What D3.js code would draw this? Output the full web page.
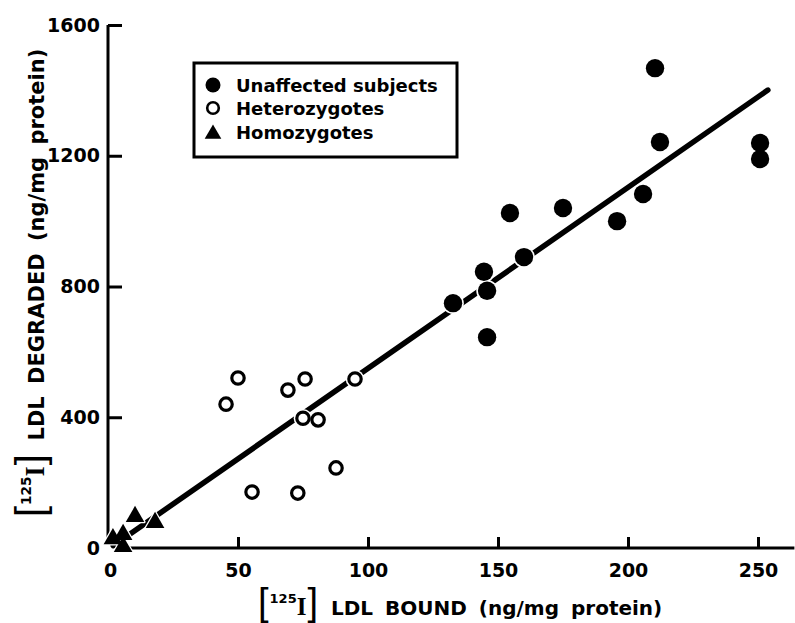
<!DOCTYPE html>
<html>
<head>
<meta charset="utf-8">
<script src="https://cdn.jsdelivr.net/npm/d3@7"></script>
<style>
  html, body { margin: 0; padding: 0; background: #fff; }
  svg { display: block; }
  text { fill: #000; }
</style>
</head>
<body>
<svg id="chart" width="795" height="623"></svg>
<script>
// ---- data ----
const unaffectedX = [210.4, 212.3, 250.8, 250.8, 205.8, 175.0, 154.6, 195.8, 160.0, 144.6, 145.8, 132.7, 145.8];
const unaffectedY = [1468, 1242, 1239, 1190, 1083, 1040, 1025, 1000, 890, 845, 787, 749, 645];

const heteroX = [50.0, 45.4, 69.2, 75.8, 95.0, 75.0, 80.8, 87.7, 55.4, 73.0];
const heteroY = [520, 440, 483, 517, 517, 397, 392, 245, 171, 168];

const homoX = [10.4, 18.1, 1.9, 5.8, 5.8];
const homoY = [96, 78, 28, 41, 4];

const fitX = [2, 253.8];
const fitY = [7, 1401];

const xTickValues = [0, 50, 100, 150, 200, 250];
const yTickValues = [0, 400, 800, 1200, 1600];

const legendLabels = ["Unaffected subjects", "Heterozygotes", "Homozygotes"];

// ---- setup ----
const svg = d3.select("#chart");
const x = d3.scaleLinear().domain([0, 250]).range([108, 758]);
const y = d3.scaleLinear().domain([0, 1600]).range([548, 25]);

const sansBold = "'DejaVu Sans', Verdana, sans-serif";

// axis lines
svg.append("line")
  .attr("x1", x(0)).attr("x2", x(0))
  .attr("y1", y(0) - 6).attr("y2", y(1600))
  .attr("stroke", "#000").attr("stroke-width", 3);
svg.append("line")
  .attr("x1", x(8.5)).attr("x2", x(264))
  .attr("y1", y(0)).attr("y2", y(0))
  .attr("stroke", "#000").attr("stroke-width", 3);

// y axis
const yAxis = d3.axisLeft(y)
  .tickValues(yTickValues)
  .tickFormat(d3.format("d"))
  .tickSizeInner(-14).tickSizeOuter(0).tickPadding(8);
const gy = svg.append("g").attr("transform", `translate(${x(0)},0)`).call(yAxis);
gy.select(".domain").remove();
gy.selectAll(".tick line").attr("stroke", "#000").attr("stroke-width", 3)
  .filter(d => d === 0).remove();
gy.selectAll(".tick text")
  .attr("font-family", sansBold).attr("font-weight", "bold").attr("font-size", 19)
  .attr("fill", "#000");

// x axis
const xAxis = d3.axisBottom(x)
  .tickValues(xTickValues)
  .tickFormat(d3.format("d"))
  .tickSizeInner(-11).tickSizeOuter(0).tickPadding(16);
const gx = svg.append("g").attr("transform", `translate(0,${y(0)})`).call(xAxis);
gx.select(".domain").remove();
gx.selectAll(".tick line").attr("stroke", "#000").attr("stroke-width", 3)
  .filter(d => d === 0).remove();
gx.selectAll(".tick text")
  .attr("font-family", sansBold).attr("font-weight", "bold").attr("font-size", 19)
  .attr("fill", "#000")
  .attr("dx", d => d === 0 ? 2 : 0);

// regression line
svg.append("path")
  .datum(fitX.map((v, i) => [v, fitY[i]]))
  .attr("d", d3.line().x(d => x(d[0])).y(d => y(d[1])))
  .attr("stroke", "#000").attr("stroke-width", 5.5).attr("fill", "none")
  .attr("stroke-linecap", "round");

// markers
const unaffected = unaffectedX.map((v, i) => ({ x: v, y: unaffectedY[i] }));
const hetero = heteroX.map((v, i) => ({ x: v, y: heteroY[i] }));
const homo = homoX.map((v, i) => ({ x: v, y: homoY[i] }));

const triSym = d3.symbol().type(d3.symbolTriangle).size(150);

// homozygotes (triangles) with white halo
svg.append("g").selectAll("path").data(homo).join("path")
  .attr("d", triSym)
  .attr("transform", d => `translate(${x(d.x)},${y(d.y)})`)
  .attr("fill", "#000").attr("stroke", "#fff").attr("stroke-width", 2.5)
  .attr("stroke-linejoin", "round");
svg.append("g").selectAll("path").data(homo).join("path")
  .attr("d", triSym)
  .attr("transform", d => `translate(${x(d.x)},${y(d.y)})`)
  .attr("fill", "#000");

// heterozygotes (open circles)
svg.append("g").selectAll("circle").data(hetero).join("circle")
  .attr("cx", d => x(d.x)).attr("cy", d => y(d.y)).attr("r", 9.3)
  .attr("fill", "#fff");
svg.append("g").selectAll("circle").data(hetero).join("circle")
  .attr("cx", d => x(d.x)).attr("cy", d => y(d.y)).attr("r", 6.2)
  .attr("fill", "#fff").attr("stroke", "#000").attr("stroke-width", 3.2);

// unaffected (filled circles)
svg.append("g").selectAll("circle").data(unaffected).join("circle")
  .attr("cx", d => x(d.x)).attr("cy", d => y(d.y)).attr("r", 10.8)
  .attr("fill", "#fff");
svg.append("g").selectAll("circle").data(unaffected).join("circle")
  .attr("cx", d => x(d.x)).attr("cy", d => y(d.y)).attr("r", 9.2)
  .attr("fill", "#000");

// ---- legend ----
const lg = svg.append("g").attr("transform", "translate(194,63)");
lg.append("rect").attr("x", 0).attr("y", 0).attr("width", 263).attr("height", 94)
  .attr("fill", "none").attr("stroke", "#000").attr("stroke-width", 3);
const rowY = [22, 45, 69];
lg.append("circle").attr("cx", 19).attr("cy", rowY[0]).attr("r", 7.5).attr("fill", "#000");
lg.append("circle").attr("cx", 19).attr("cy", rowY[1]).attr("r", 5.8)
  .attr("fill", "none").attr("stroke", "#000").attr("stroke-width", 2.6);
lg.append("path").attr("d", d3.symbol().type(d3.symbolTriangle).size(120))
  .attr("transform", `translate(19,${rowY[2] + 2})`).attr("fill", "#000");
lg.selectAll("text.leg").data(legendLabels).join("text")
  .attr("class", "leg")
  .attr("x", 42).attr("y", (d, i) => rowY[i] + 6.5)
  .attr("font-family", sansBold).attr("font-weight", "bold").attr("font-size", 18)
  .text(d => d);

// ---- axis titles ----
function isotopeLabel(sel, rest, s) {
  sel.append("tspan").attr("font-family", "'Liberation Sans', Arial, sans-serif")
    .attr("font-size", 38 * s).text("[");
  sel.append("tspan").attr("font-family", sansBold).attr("font-weight", "bold")
    .attr("font-size", 13 * s).attr("dy", -12 * s).attr("dx", 1).text("125");
  sel.append("tspan").attr("font-family", "'Liberation Serif', 'Times New Roman', serif")
    .attr("font-weight", "bold").attr("font-size", 25 * s).attr("dy", 12 * s).text("I");
  sel.append("tspan").attr("font-family", "'Liberation Sans', Arial, sans-serif")
    .attr("font-size", 38 * s).attr("dx", 1).text("]");
  sel.append("tspan").attr("font-family", sansBold).attr("font-weight", "bold")
    .attr("font-size", 20 * s).attr("dx", 13 * s).attr("word-spacing", 5).text(rest);
}

const xt = svg.append("text").attr("x", 258).attr("y", 615);
isotopeLabel(xt, "LDL BOUND (ng/mg protein)", 1);

const yt = svg.append("text").attr("transform", "translate(44,517) rotate(-90)");
isotopeLabel(yt, "LDL DEGRADED (ng/mg protein)", 1.05);
</script>
</body>
</html>
